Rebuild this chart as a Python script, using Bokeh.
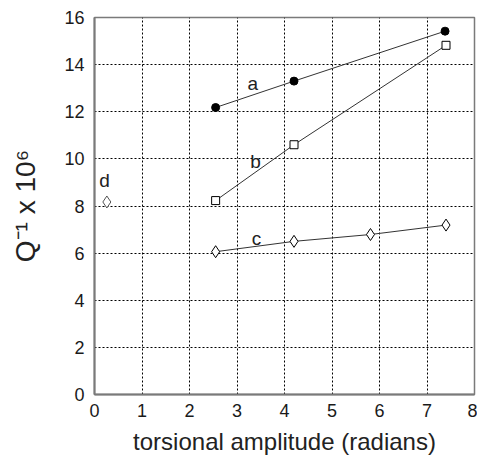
from bokeh.plotting import figure
from bokeh.models import FixedTicker, Range1d, ColumnDataSource
from bokeh.embed import file_html
from bokeh.resources import INLINE
from bokeh.core.properties import value

# data
a_x = [2.55, 4.2, 7.38]
a_y = [12.18, 13.3, 15.42]
b_x = [2.55, 4.2, 7.4]
b_y = [8.23, 10.6, 14.82]
c_x = [2.55, 4.2, 5.81, 7.4]
c_y = [6.06, 6.5, 6.79, 7.19]
d_x = [0.26]
d_y = [8.17]
label_text = ["a", "b", "c", "d"]
label_x = [3.33, 3.39, 3.41, 0.21]
label_y = [13.2, 9.9, 6.6, 9.1]
x_ticks = [0, 1, 2, 3, 4, 5, 6, 7, 8]
y_ticks = [0, 2, 4, 6, 8, 10, 12, 14, 16]

FONT = "Liberation Sans"

p = figure(width=477, height=457, output_backend="svg", toolbar_location=None,
           x_range=Range1d(0, 8), y_range=Range1d(0, 16),
           min_border_left=94, min_border_right=3, min_border_top=17, min_border_bottom=61)

p.outline_line_color = "#7a7a7a"
p.outline_line_width = 1.5

for ax in (p.xaxis[0], p.yaxis[0]):
    ax.axis_line_color = "#7a7a7a"
    ax.axis_line_width = 2
    ax.major_tick_line_color = None
    ax.minor_tick_line_color = None
    ax.major_tick_out = 0
    ax.major_tick_in = 0
    ax.minor_tick_out = 0
    ax.major_label_text_font = FONT
    ax.major_label_text_font_size = "18px"
    ax.major_label_text_color = "#1a1a1a"
    ax.axis_label_text_font = FONT
    ax.axis_label_text_font_style = "normal"
    ax.axis_label_text_color = "#222222"

p.xaxis.ticker = FixedTicker(ticks=x_ticks)
p.yaxis.ticker = FixedTicker(ticks=y_ticks)
p.xaxis.major_label_standoff = 9
p.yaxis.major_label_standoff = 10
p.xaxis.axis_label = "torsional amplitude (radians)"
p.xaxis.axis_label_text_font_size = "24px"
p.xaxis.axis_label_standoff = 8
p.yaxis.axis_label = "Q\u207B\u00B9 x 10\u2076"
p.yaxis.axis_label_text_font_size = "28px"
p.yaxis.axis_label_standoff = 20

p.xgrid.ticker = FixedTicker(ticks=x_ticks)
p.ygrid.ticker = FixedTicker(ticks=y_ticks)
for g in (p.xgrid[0], p.ygrid[0]):
    g.grid_line_color = "#000000"
    g.grid_line_dash = "2 2"
    g.grid_line_width = 1
    g.grid_line_alpha = 1.0

lc = "#333333"
p.line(a_x, a_y, line_color=lc, line_width=1)
p.line(b_x, b_y, line_color=lc, line_width=1)
p.line(c_x, c_y, line_color=lc, line_width=1)

p.scatter(a_x, a_y, marker="circle", size=8, fill_color="black", line_color="black")
p.scatter(b_x, b_y, marker="square", size=8, fill_color="white", line_color="black", line_width=1)
p.scatter(c_x, c_y, marker="diamond", size=12, fill_color="white", line_color="black", line_width=1)
p.scatter(d_x, d_y, marker="diamond", size=12, fill_color="white", line_color="#555555", line_width=1)

src = ColumnDataSource(dict(x=label_x, y=label_y, t=label_text))
p.text(x="x", y="y", text="t", source=src, text_font=value(FONT), text_font_size="19px",
       text_align="center", text_baseline="middle", text_color="#222222")

open("out.html", "w").write(file_html(p, INLINE))
